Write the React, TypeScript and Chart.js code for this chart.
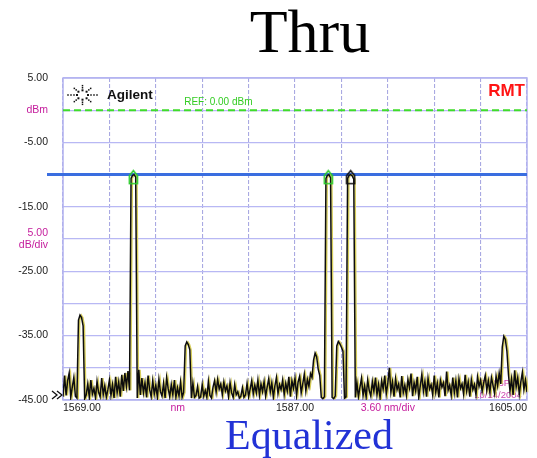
import React, { useEffect, useRef } from 'react';
import { Chart, registerables } from 'chart.js';

Chart.register(...registerables);

// ---- data ----
const START_NM = 1569;
const STEP_NM = 0.12;
// measured power (dBm), one sample every STEP_NM starting at START_NM
const POWER_DBM = [
  -44.5, -41.2, -44.3, -42.0, -40.8, -44.6, -43.0, -41.5, -44.4, -44.7,
  -32.6, -31.8, -32.2, -33.5, -44.8, -44.2, -42.5, -44.6, -41.9, -44.1,
  -43.2, -44.7, -42.1, -43.8, -44.5, -41.6, -44.2, -42.8, -44.6, -43.4,
  -41.9, -44.3, -42.6, -44.7, -41.4, -43.9, -42.2, -44.5, -41.1, -43.6,
  -40.8, -42.9, -40.5, -43.5, -10.6, -10.1, -10.0, -10.4, -44.7, -40.3,
  -44.2, -41.6, -43.9, -42.3, -44.6, -41.2, -43.4, -44.5, -42.0, -44.1,
  -42.7, -44.6, -41.8, -43.7, -44.4, -42.4, -44.7, -41.5, -43.2, -44.5,
  -42.6, -44.2, -41.9, -44.6, -43.1, -44.4, -42.2, -44.6, -43.8, -36.6,
  -36.0, -36.4, -37.2, -44.7, -42.4, -44.6, -44.3, -42.9, -44.7, -44.5,
  -42.6, -44.4, -43.5, -44.6, -42.1, -44.3, -44.7, -43.0, -42.0, -43.8,
  -41.8, -43.3, -42.5, -44.2, -42.2, -43.6, -42.8, -44.5, -42.3, -43.9,
  -44.6, -42.6, -44.2, -43.7, -44.7, -44.4, -43.1, -44.6, -44.2, -42.4,
  -44.5, -43.3, -42.0, -44.1, -42.7, -43.9, -41.9, -44.3, -42.5, -43.7,
  -42.1, -44.4, -43.0, -41.7, -43.8, -42.3, -44.6, -42.8, -41.5, -44.0,
  -42.6, -43.4, -41.9, -44.2, -42.4, -43.6, -41.4, -44.5, -42.0, -43.2,
  -41.6, -44.3, -42.2, -41.3, -43.9, -42.5, -41.0, -43.6, -41.8, -42.9,
  -40.9, -41.5, -38.8, -37.7, -38.3, -40.2, -41.2, -44.6, -44.8, -44.5,
  -10.6, -10.1, -10.0, -10.5, -44.6, -44.8, -44.4, -36.6, -35.9, -36.3,
  -36.8, -37.4, -44.7, -44.5, -10.6, -10.1, -10.0, -10.2, -10.7, -44.6,
  -42.3, -44.5, -43.0, -41.6, -44.3, -42.8, -44.6, -41.9, -43.5, -44.4,
  -42.1, -43.7, -41.5, -44.2, -42.6, -44.7, -42.0, -43.3, -41.2, -44.1,
  -42.4, -40.0, -43.8, -42.2, -44.5, -41.7, -43.4, -42.5, -44.6, -41.3,
  -43.9, -42.7, -44.3, -41.8, -43.1, -40.9, -44.4, -42.3, -43.6, -41.4,
  -44.6, -42.8, -41.0, -43.7, -42.1, -44.5, -41.6, -43.3, -42.6, -44.2,
  -41.2, -43.8, -42.4, -44.6, -41.9, -43.0, -42.3, -44.4, -40.6, -43.5,
  -42.7, -44.3, -41.5, -43.9, -42.0, -44.6, -41.7, -43.2, -42.5, -44.1,
  -41.1, -43.6, -42.2, -44.5, -41.8, -43.4, -42.6, -44.2, -41.4, -42.9,
  -41.9, -43.7, -42.3, -41.2, -43.5, -42.0, -43.8, -41.5, -42.7, -44.0,
  -41.3, -42.8, -40.8, -42.5, -36.8, -35.1, -35.6, -37.4, -41.0, -43.6,
  -41.7, -44.2, -40.4, -43.0, -41.5, -44.1, -42.2, -40.7, -43.4, -41.9,
  -43.8,
];

const MARKER_NM = [1574.46, 1589.58, 1591.32];
const MARKER_DBM = [-10.4, -10.4, -10.4];
const MARKER_COLORS = ['#2ccc2c', '#2ccc2c', '#111111'];

const X_MIN = 1569;
const X_MAX = 1605;
const X_STEP = 3.6;
const Y_MIN = -45;
const Y_MAX = 5;
const Y_STEP = 5;

const Y_TICK_LABELS: Record<string, string | string[]> = {
  '5': '5.00',
  '0': 'dBm',
  '-5': '-5.00',
  '-15': '-15.00',
  '-20': ['5.00', 'dB/div'],
  '-25': '-25.00',
  '-35': '-35.00',
  '-45': '-45.00',
};
const Y_MAGENTA_TICKS = [0, -20];

const X_LABEL_NM = [1569, 1577.9, 1587, 1594.2, 1605];
const X_LABELS = ['1569.00', 'nm', '1587.00', '3.60 nm/div', '1605.00'];
const X_LABEL_ALIGN: CanvasTextAlign[] = ['left', 'center', 'center', 'center', 'right'];
const X_LABEL_MAGENTA = [false, true, false, true, false];

const REF_DBM = 0;
const REF_TEXT = 'REF: 0.00 dBm';
const LEVEL_DBM = -10;
const TITLE = 'Thru';
const SUBTITLE = 'Equalized';
const BRAND = 'Agilent';
const MODE = 'RMT';
const TIME_TEXT = '03:23PM';
const DATE_TEXT = '10/14/2004';

const SANS = "'Liberation Sans', Arial, sans-serif";
const SERIF = "'Liberation Serif', 'Times New Roman', serif";
const MAGENTA = '#c41c9c';

function makeMarker(color: string): HTMLCanvasElement {
  const c = document.createElement('canvas');
  c.width = 11;
  c.height = 16;
  const g = c.getContext('2d')!;
  g.strokeStyle = color;
  g.lineWidth = 1.6;
  g.beginPath();
  g.moveTo(5.5, 1.5);
  g.lineTo(9.5, 6.5);
  g.lineTo(9.5, 14.5);
  g.lineTo(1.5, 14.5);
  g.lineTo(1.5, 6.5);
  g.closePath();
  g.stroke();
  return c;
}

export default function App() {
  const ref = useRef<HTMLCanvasElement | null>(null);

  useEffect(() => {
    const canvas = ref.current;
    if (!canvas) return;

    const trace = POWER_DBM.map((y, i) => ({ x: START_NM + i * STEP_NM, y }));
    const markers = MARKER_NM.map((x, i) => ({ x, y: MARKER_DBM[i] }));
    const markerImgs = MARKER_COLORS.map(makeMarker);

    const decor = {
      id: 'decor',
      beforeDatasetsDraw(chart: any) {
        const { ctx, chartArea: a, scales } = chart;
        const xs = scales.x;
        const ys = scales.y;
        ctx.save();
        // frame
        ctx.strokeStyle = '#b3b3f0';
        ctx.lineWidth = 1.5;
        ctx.strokeRect(a.left, a.top, a.right - a.left, a.bottom - a.top);

        // reference line
        const yRef = ys.getPixelForValue(REF_DBM);
        ctx.strokeStyle = '#3fdc2a';
        ctx.lineWidth = 2;
        ctx.setLineDash([7, 4]);
        ctx.beginPath();
        ctx.moveTo(a.left, yRef);
        ctx.lineTo(a.right, yRef);
        ctx.stroke();
        ctx.setLineDash([]);

        ctx.fillStyle = '#33cc22';
        ctx.font = `10px ${SANS}`;
        ctx.textAlign = 'left';
        ctx.textBaseline = 'middle';
        ctx.fillText(REF_TEXT, xs.getPixelForValue(1578.4), yRef - 8);

        // logo
        const cx = a.left + 19.5;
        const cy = a.top + 17;
        ctx.fillStyle = '#111';
        for (let k = 0; k < 8; k++) {
          const ang = (k * Math.PI) / 4;
          const horiz = k % 4 === 0;
          const radii = horiz ? [5.5, 8.5, 11.5, 14.5] : [5.5, 8.5, 11];
          for (const r of radii) {
            const px = cx + Math.cos(ang) * r * (horiz ? 1 : 1.05);
            const py = cy + Math.sin(ang) * r * 0.85;
            const s = r < 7 ? 2 : 1.5;
            ctx.fillRect(px - s / 2, py - s / 2, s, s);
          }
        }
        ctx.fillStyle = '#111';
        ctx.font = `bold 13.5px ${SANS}`;
        ctx.textAlign = 'left';
        ctx.textBaseline = 'middle';
        ctx.fillText(BRAND, a.left + 44, cy);

        ctx.fillStyle = '#ff1414';
        ctx.font = `bold 17px ${SANS}`;
        ctx.textAlign = 'right';
        ctx.fillText(MODE, a.right - 2, a.top + 13);

        // time stamp
        ctx.fillStyle = '#cc44b0';
        ctx.font = `9.5px ${SANS}`;
        ctx.textAlign = 'center';
        ctx.fillText(TIME_TEXT, a.right - 28, a.bottom - 17);
        ctx.fillText(DATE_TEXT, a.right - 29, a.bottom - 5);

        // level line
        const yLvl = ys.getPixelForValue(LEVEL_DBM);
        ctx.strokeStyle = '#3a6ee0';
        ctx.lineWidth = 3;
        ctx.beginPath();
        ctx.moveTo(a.left - 16, yLvl);
        ctx.lineTo(a.right, yLvl);
        ctx.stroke();
        ctx.restore();
      },
      beforeDatasetDraw(chart: any, args: any) {
        if (args.index === 1) {
          chart.ctx.save();
          chart.ctx.translate(1.3, 0);
        }
      },
      afterDatasetDraw(chart: any, args: any) {
        if (args.index === 1) chart.ctx.restore();
      },
      afterDraw(chart: any) {
        const { ctx, chartArea: a, scales } = chart;
        const xs = scales.x;
        ctx.save();
        // x labels
        ctx.font = `10.5px ${SANS}`;
        ctx.textBaseline = 'middle';
        X_LABELS.forEach((t, i) => {
          ctx.fillStyle = X_LABEL_MAGENTA[i] ? MAGENTA : '#1a1a1a';
          ctx.textAlign = X_LABEL_ALIGN[i];
          ctx.fillText(t, xs.getPixelForValue(X_LABEL_NM[i]), a.bottom + 8.5);
        });
        // >> symbol
        ctx.strokeStyle = '#111';
        ctx.lineWidth = 1.3;
        const by = a.bottom - 5;
        for (const ox of [a.left - 11, a.left - 6]) {
          ctx.beginPath();
          ctx.moveTo(ox, by - 4);
          ctx.lineTo(ox + 5, by);
          ctx.lineTo(ox, by + 4);
          ctx.stroke();
        }
        // titles
        ctx.fillStyle = '#000';
        ctx.font = `62px ${SERIF}`;
        ctx.textAlign = 'center';
        ctx.textBaseline = 'alphabetic';
        ctx.fillText(TITLE, 310, 52);
        ctx.fillStyle = '#2232d6';
        ctx.font = `42px ${SERIF}`;
        ctx.fillText(SUBTITLE, 309, 449);
        ctx.restore();
      },
    };

    const chart = new Chart(canvas, {
      type: 'line',
      data: {
        datasets: [
          {
            type: 'scatter',
            data: markers,
            pointStyle: (c: any) => markerImgs[c.dataIndex] as any,
            pointRadius: 6,
            showLine: false,
            order: 0,
          } as any,
          {
            data: trace,
            borderColor: '#d6cd5a',
            borderWidth: 1.5,
            pointRadius: 0,
            tension: 0,
            order: 2,
          },
          {
            data: trace,
            borderColor: '#0d0d0d',
            borderWidth: 1.5,
            pointRadius: 0,
            tension: 0,
            order: 1,
          },
        ],
      },
      options: {
        responsive: false,
        animation: false,
        layout: { padding: { left: 0, right: 10, top: 78, bottom: 58 } },
        scales: {
          x: {
            type: 'linear',
            min: X_MIN,
            max: X_MAX,
            ticks: { display: false, stepSize: X_STEP },
            grid: { color: '#a9a9e2', lineWidth: 1.1, drawTicks: false },
            border: { display: false, dash: [4, 2] },
            afterFit: (s: any) => {
              s.height = 0;
            },
          },
          y: {
            type: 'linear',
            min: Y_MIN,
            max: Y_MAX,
            ticks: {
              stepSize: Y_STEP,
              padding: 15,
              autoSkip: false,
              font: { family: SANS, size: 10.5 },
              color: (c: any) => (Y_MAGENTA_TICKS.includes(c.tick?.value) ? MAGENTA : '#1a1a1a'),
              callback: (v: any) => Y_TICK_LABELS[String(v)] ?? '',
            },
            grid: { color: '#b8b8f4', lineWidth: 1.3, drawTicks: false },
            border: { display: false },
            afterFit: (s: any) => {
              s.width = 63;
            },
          },
        },
        plugins: {
          legend: { display: false },
          tooltip: { enabled: false },
          title: { display: false },
        },
      },
      plugins: [decor],
    } as any);

    return () => chart.destroy();
  }, []);

  return (
    <div style={{ position: 'fixed', left: 0, top: 0, width: 537, height: 458, background: '#fff' }}>
      <canvas ref={ref} width={537} height={458} style={{ width: 537, height: 458, display: 'block' }} />
    </div>
  );
}
